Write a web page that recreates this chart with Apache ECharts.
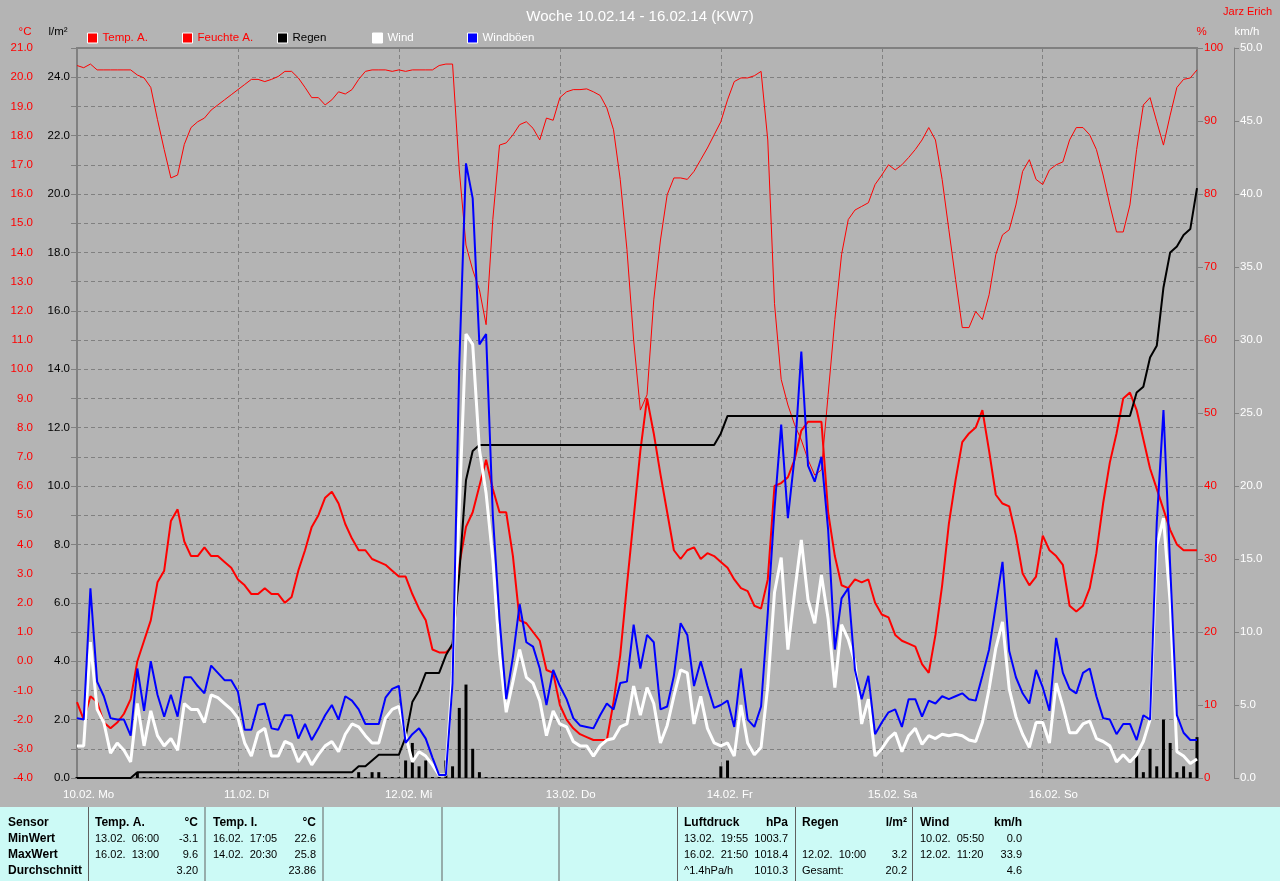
<!DOCTYPE html>
<html><head><meta charset="utf-8">
<script src="https://cdn.jsdelivr.net/npm/echarts@6/dist/echarts.min.js"></script>
<style>html,body{margin:0;padding:0;background:#b4b4b4;}#c{width:1280px;height:881px;}</style>
</head><body><div id="c"></div>
<script>
// ---------- data (hourly, 10.02. 00:00 ... 16.02. 23:00) ----------
const dayLabels = ['10.02. Mo','11.02. Di','12.02. Mi','13.02. Do','14.02. Fr','15.02. Sa','16.02. So'];
const tempTicks = [-4,-3,-2,-1,0,1,2,3,4,5,6,7,8,9,10,11,12,13,14,15,16,17,18,19,20,21];
const legendNames = ['Temp. A.','Feuchte A.','Regen','Wind','Windböen'];

const tempA = [
-1.4,-2.0,-1.2,-1.4,-2.1,-2.3,-2.1,-1.8,-1.3,0.0,0.7,1.4,2.7,3.1,4.8,5.2,4.1,3.6,3.6,3.9,3.6,3.6,3.4,3.2,
2.8,2.6,2.3,2.3,2.5,2.3,2.3,2.0,2.2,3.1,3.8,4.6,5.0,5.6,5.8,5.4,4.7,4.2,3.8,3.8,3.5,3.4,3.3,3.1,
2.9,2.9,2.3,1.8,1.4,0.4,0.3,0.3,0.5,3.3,4.6,5.1,6.0,6.9,5.9,5.1,5.1,3.6,1.4,1.3,1.0,0.7,-0.3,-0.4,
-1.5,-2.0,-2.3,-2.5,-2.6,-2.7,-2.7,-2.7,-1.4,0.2,2.6,4.9,7.2,9.0,7.8,6.4,5.1,3.8,3.5,3.8,3.9,3.5,3.7,3.6,
3.4,3.2,2.8,2.5,2.4,1.9,1.8,2.8,6.0,6.1,6.3,6.9,7.9,8.2,8.2,8.2,5.1,3.6,2.6,2.5,2.8,2.7,2.8,2.0,
1.6,1.5,0.9,0.7,0.6,0.5,-0.1,-0.4,0.9,2.6,4.7,6.2,7.5,7.8,8.0,8.6,7.2,5.7,5.4,5.3,4.3,3.0,2.6,2.9,
4.3,3.8,3.6,3.3,1.9,1.7,1.9,2.5,3.7,5.4,6.8,7.8,9.0,9.2,8.6,7.6,6.6,5.9,5.2,4.5,4.0,3.8,3.8,3.8
];
const feuchteA = [
97.6,97.3,97.8,97.0,97.0,97.0,97.0,97.0,97.0,96.3,95.9,94.6,90.2,86.1,82.2,82.6,86.8,89.1,89.9,90.4,91.5,92.2,92.9,93.6,
94.3,95.0,95.7,95.7,95.4,95.7,96.1,96.8,96.8,95.9,94.6,93.2,93.2,92.2,92.9,94.0,93.7,94.3,95.7,96.8,97.0,97.0,97.0,96.8,
97.0,96.8,97.0,97.0,97.0,97.0,97.6,97.8,97.8,83.3,73.0,69.6,66.9,62.1,76.5,86.7,87.0,88.1,89.5,89.9,89.0,87.4,90.4,90.1,
93.2,94.0,94.3,94.3,94.4,94.0,93.5,91.8,88.8,82.0,72.4,60.0,50.4,52.5,65.5,73.7,79.9,82.2,82.2,82.0,83.1,84.7,86.3,88.1,
89.9,92.9,95.4,95.9,95.9,96.2,96.8,87.4,65.0,54.6,51.1,48.4,46.3,43.6,41.5,42.2,52.5,62.8,71.7,76.5,77.8,78.3,78.8,81.3,
82.6,84.0,83.3,84.0,85.0,86.1,87.4,89.1,87.4,82.0,75.1,68.3,61.7,61.7,63.9,62.8,66.2,71.7,74.4,75.1,78.5,83.1,84.7,82.0,
81.3,83.3,84.0,84.4,87.4,89.1,89.1,88.1,86.1,82.6,78.5,74.8,74.8,78.5,86.1,92.2,93.2,89.9,86.7,90.8,94.6,95.7,95.9,97.0
];
const regenSumme = [
0,0,0,0,0,0,0,0,0,0.2,0.2,0.2,0.2,0.2,0.2,0.2,0.2,0.2,0.2,0.2,0.2,0.2,0.2,0.2,
0.2,0.2,0.2,0.2,0.2,0.2,0.2,0.2,0.2,0.2,0.2,0.2,0.2,0.2,0.2,0.2,0.2,0.2,0.4,0.4,0.6,0.8,0.8,0.8,
0.8,1.4,2.6,3.0,3.6,3.6,3.6,4.2,4.6,7.0,10.2,11.2,11.4,11.4,11.4,11.4,11.4,11.4,11.4,11.4,11.4,11.4,11.4,11.4,
11.4,11.4,11.4,11.4,11.4,11.4,11.4,11.4,11.4,11.4,11.4,11.4,11.4,11.4,11.4,11.4,11.4,11.4,11.4,11.4,11.4,11.4,11.4,11.4,
11.8,12.4,12.4,12.4,12.4,12.4,12.4,12.4,12.4,12.4,12.4,12.4,12.4,12.4,12.4,12.4,12.4,12.4,12.4,12.4,12.4,12.4,12.4,12.4,
12.4,12.4,12.4,12.4,12.4,12.4,12.4,12.4,12.4,12.4,12.4,12.4,12.4,12.4,12.4,12.4,12.4,12.4,12.4,12.4,12.4,12.4,12.4,12.4,
12.4,12.4,12.4,12.4,12.4,12.4,12.4,12.4,12.4,12.4,12.4,12.4,12.4,12.4,13.2,13.4,14.4,14.8,16.8,18.0,18.2,18.6,18.8,20.2
];
const regenStunde = [
0,0,0,0,0,0,0,0,0,0.2,0,0,0,0,0,0,0,0,0,0,0,0,0,0,
0,0,0,0,0,0,0,0,0,0,0,0,0,0,0,0,0,0,0.2,0,0.2,0.2,0,0,
0,0.6,1.2,0.4,0.6,0,0,0.6,0.4,2.4,3.2,1.0,0.2,0,0,0,0,0,0,0,0,0,0,0,
0,0,0,0,0,0,0,0,0,0,0,0,0,0,0,0,0,0,0,0,0,0,0,0,
0.4,0.6,0,0,0,0,0,0,0,0,0,0,0,0,0,0,0,0,0,0,0,0,0,0,
0,0,0,0,0,0,0,0,0,0,0,0,0,0,0,0,0,0,0,0,0,0,0,0,
0,0,0,0,0,0,0,0,0,0,0,0,0,0,0.8,0.2,1.0,0.4,2.0,1.2,0.2,0.4,0.2,1.4
];
const wind = [
2.2,2.2,9.3,4.7,3.8,1.7,2.4,1.9,1.1,5.1,2.2,4.6,2.9,2.2,2.7,1.9,5.1,4.7,4.7,3.8,5.7,5.5,5.1,4.7,
4.1,2.4,1.5,3.1,3.4,1.5,1.5,2.5,2.3,1.1,1.8,0.9,1.6,2.2,2.5,1.8,3.0,3.7,3.5,2.9,2.4,2.4,4.1,4.7,
4.9,2.9,1.1,1.8,1.5,0.9,0.2,0.2,7.2,18.5,30.4,29.7,22.5,19.5,15.0,8.5,4.5,6.6,8.8,6.9,6.5,5.3,2.9,4.6,
3.7,3.5,2.5,2.2,2.2,1.5,2.2,2.6,2.7,3.5,3.7,6.3,4.3,6.2,5.1,2.4,3.6,5.6,7.4,7.2,3.7,5.6,3.4,2.4,
2.2,2.4,1.5,5.0,2.4,1.6,2.1,6.3,12.7,15.1,8.8,12.7,16.3,12.2,10.6,13.9,10.9,6.2,10.5,9.5,7.9,3.7,5.4,1.5,
2.0,2.7,3.1,1.8,2.9,3.4,2.3,2.9,2.7,3.0,2.9,3.0,2.9,2.6,2.5,3.8,6.1,8.9,10.7,6.1,4.2,3.0,2.1,3.8,
3.8,2.4,6.5,4.9,3.1,3.1,3.7,3.9,2.7,2.5,2.2,1.1,1.6,1.1,1.6,2.5,4.0,15.9,17.8,12.0,1.8,1.5,1.0,1.3
];
const windboeen = [
4.1,4.0,13.0,6.6,5.6,4.1,4.0,4.0,2.9,7.5,4.6,8.0,5.7,4.2,5.7,4.2,6.9,6.9,6.3,5.8,7.7,7.2,6.7,6.7,
5.9,3.3,3.3,5.0,5.1,3.4,3.3,4.3,4.3,2.7,3.7,2.6,3.4,4.3,5.0,4.0,5.6,5.3,4.7,3.7,3.7,3.7,5.5,6.1,
6.3,2.4,3.0,3.4,2.7,1.4,0.2,0.2,6.5,28.3,42.1,39.7,29.7,30.4,18.0,10.9,5.4,8.3,11.9,9.3,9.0,7.5,5.0,7.4,
6.3,5.4,4.1,3.6,3.5,3.4,4.3,5.1,4.7,6.5,6.6,10.5,7.5,9.8,9.3,4.7,4.9,7.0,10.6,9.8,6.3,8.0,6.3,4.8,
5.0,5.3,3.5,7.5,4.0,3.5,4.9,11.3,18.4,24.2,17.8,22.0,29.2,21.4,20.3,22.0,17.0,8.8,12.3,13.0,7.4,5.4,7.0,3.0,
3.8,4.5,4.7,3.5,5.4,5.4,4.2,5.3,5.1,5.6,5.4,5.6,5.8,5.4,5.3,7.0,8.8,11.8,14.8,8.7,6.9,5.8,5.1,7.4,
6.2,4.6,9.6,7.2,6.1,5.8,7.2,7.5,5.6,4.1,4.0,3.0,3.7,3.7,2.6,4.3,4.0,17.5,25.2,14.5,4.3,3.1,2.6,2.6
];

// bottom table texts
const rowLabels = ['Sensor','MinWert','MaxWert','Durchschnitt'];
const tableBlocks = [
  [['Temp. A.','°C'],['13.02.  06:00','-3.1'],['16.02.  13:00','9.6'],['','3.20']],
  [['Temp. I.','°C'],['16.02.  17:05','22.6'],['14.02.  20:30','25.8'],['','23.86']],
  [['Luftdruck','hPa'],['13.02.  19:55','1003.7'],['16.02.  21:50','1018.4'],['^1.4hPa/h','1010.3']],
  [['Regen','l/m²'],['',''],['12.02.  10:00','3.2'],['Gesamt:','20.2']],
  [['Wind','km/h'],['10.02.  05:50','0.0'],['12.02.  11:20','33.9'],['','4.6']]
];

// ---------- layout ----------
const SF = '"Liberation Sans",Arial,sans-serif';
const FS = 11.5;
const GRID = '#808080';
const xy = arr => arr.map((v, i) => [i, v]);

const g = [];
g.push({type:'rect', shape:{x:0, y:807, width:1280, height:74}, style:{fill:'#ccfaf6'}, silent:true});
[88.5,205,323,442,559,677.5,795.5,912.5].forEach(x => g.push({type:'line', shape:{x1:x, y1:807, x2:x, y2:881}, style:{stroke:'#606060', lineWidth:1}, silent:true}));
const rowY = [823, 839, 855, 871];
rowLabels.forEach((t, i) => g.push({type:'text', x:8, y:rowY[i], style:{text:t, fill:'#000', font:'bold 12px ' + SF, textAlign:'left', textVerticalAlign:'middle'}}));
const blockX = [[95,198],[213,316],[684,788],[802,907],[920,1022]];
tableBlocks.forEach((blk, b) => {
  blk.forEach((row, r) => {
    const font = r === 0 ? 'bold 12px ' + SF : '11px ' + SF;
    g.push({type:'text', x:blockX[b][0], y:rowY[r], style:{text:row[0], fill:'#000', font, textAlign:'left', textVerticalAlign:'middle'}});
    g.push({type:'text', x:blockX[b][1], y:rowY[r], style:{text:row[1], fill:'#000', font, textAlign:'right', textVerticalAlign:'middle'}});
  });
});
// unit captions & author
const capFont = FS + 'px ' + SF;
g.push({type:'text', x:25, y:32, style:{text:'°C', fill:'#ff0000', font:capFont, textAlign:'center', textVerticalAlign:'middle'}});
g.push({type:'text', x:58, y:32, style:{text:'l/m²', fill:'#000', font:capFont, textAlign:'center', textVerticalAlign:'middle'}});
g.push({type:'text', x:1201.5, y:32, style:{text:'%', fill:'#ff0000', font:capFont, textAlign:'center', textVerticalAlign:'middle'}});
g.push({type:'text', x:1247, y:32, style:{text:'km/h', fill:'#ffffff', font:capFont, textAlign:'center', textVerticalAlign:'middle'}});
g.push({type:'text', x:1272, y:12, style:{text:'Jarz Erich', fill:'#ff0000', font:'11px ' + SF, textAlign:'right', textVerticalAlign:'middle'}});

const legendColors = ['#ff0000','#ff0000','#000000','#ffffff','#ffffff'];
const legendLeft = [87, 182, 277, 372, 467];
const legends = legendNames.map((n, i) => ({
  left:legendLeft[i], top:32, padding:0, itemWidth:10, itemHeight:10, icon:'rect',
  itemStyle:{borderColor:'#ffffff', borderWidth:1},
  textStyle:{fontSize:FS, fontFamily:SF, color:legendColors[i]},
  data:[n]
}));

const chart = echarts.init(document.getElementById('c'), null, {renderer:'canvas'});
chart.setOption({
  backgroundColor:'#b4b4b4',
  animation:false,
  title:{text:'Woche 10.02.14 - 16.02.14 (KW7)', left:'center', top:4,
    textStyle:{color:'#ffffff', fontSize:15, fontWeight:'normal', fontFamily:SF}},
  legend:legends,
  grid:{left:77, top:48, width:1120, height:730, show:true, borderColor:GRID, borderWidth:2, backgroundColor:'transparent'},
  xAxis:{type:'value', min:0, max:167, interval:24,
    axisLine:{show:false},
    axisTick:{show:true, length:4, lineStyle:{color:GRID}},
    splitLine:{show:true, lineStyle:{color:GRID, type:[4,3]}},
    axisLabel:{color:'#ffffff', fontSize:FS, fontFamily:SF, margin:11, align:'left', padding:[0,0,0,-14],
      formatter: v => (v % 24 === 0 && v / 24 < dayLabels.length) ? dayLabels[v / 24] : ''}},
  yAxis:[
    {type:'value', position:'left', offset:37, min:tempTicks[0], max:tempTicks[tempTicks.length-1], interval:1,
      axisLine:{show:true, lineStyle:{color:GRID}},
      axisTick:{show:true, length:6, lineStyle:{color:GRID}},
      axisLabel:{color:'#ff0000', fontSize:FS, fontFamily:SF, margin:7, formatter: v => v.toFixed(1)},
      splitLine:{show:true, lineStyle:{color:GRID, type:[4,3]}}},
    {type:'value', position:'left', offset:0, min:0, max:25, interval:2,
      axisLine:{show:false},
      axisTick:{show:true, length:5, lineStyle:{color:GRID}},
      axisLabel:{color:'#000000', fontSize:FS, fontFamily:SF, margin:7, formatter: v => v < 25 ? v.toFixed(1) : ''},
      splitLine:{show:false}},
    {type:'value', position:'right', offset:0, min:0, max:100, interval:10,
      axisLine:{show:false},
      axisTick:{show:true, length:6, lineStyle:{color:GRID}},
      axisLabel:{color:'#ff0000', fontSize:FS, fontFamily:SF, margin:7, formatter: v => String(v)},
      splitLine:{show:false}},
    {type:'value', position:'right', offset:37, min:0, max:50, interval:5,
      axisLine:{show:true, lineStyle:{color:GRID}},
      axisTick:{show:true, length:5, lineStyle:{color:GRID}},
      axisLabel:{color:'#ffffff', fontSize:FS, fontFamily:SF, margin:6, formatter: v => v.toFixed(1)},
      splitLine:{show:false}}
  ],
  series:[
    {name:'Feuchte A.', type:'line', yAxisIndex:2, data:xy(feuchteA), symbol:'none', color:'#ff0000',
      lineStyle:{width:1, color:'#ff0000'}},
    {name:'Temp. A.', type:'line', yAxisIndex:0, data:xy(tempA), symbol:'none', color:'#ff0000',
      lineStyle:{width:2, color:'#ff0000'}},
    {name:'Regen', type:'bar', yAxisIndex:1, data:xy(regenStunde), barWidth:3, barMinHeight:1, color:'#000000',
      itemStyle:{color:'#000000'}},
    {name:'Regen', type:'line', yAxisIndex:1, data:xy(regenSumme), symbol:'none', color:'#000000',
      lineStyle:{width:2, color:'#000000'}},
    {name:'Wind', type:'line', yAxisIndex:3, data:xy(wind), symbol:'none', color:'#ffffff',
      lineStyle:{width:3, color:'#ffffff'}},
    {name:'Windböen', type:'line', yAxisIndex:3, data:xy(windboeen), symbol:'none', color:'#0000ff',
      lineStyle:{width:2, color:'#0000ff'}}
  ],
  graphic:g
});
</script>
</body></html>
